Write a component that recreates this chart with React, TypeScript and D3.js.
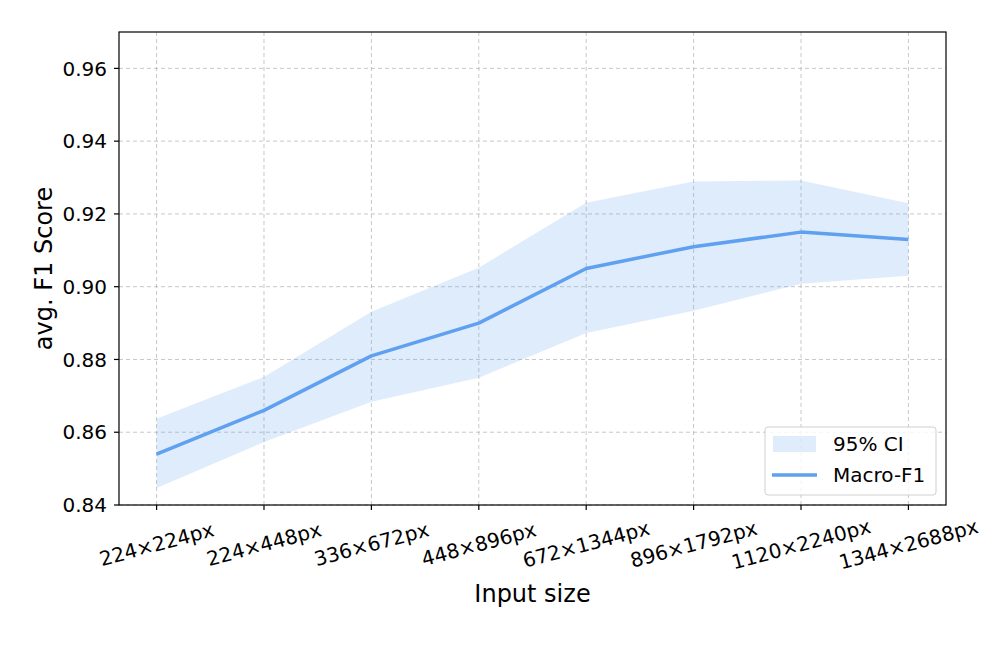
import React from "react";
import * as d3 from "d3";

const categories = ["224×224px", "224×448px", "336×672px", "448×896px", "672×1344px", "896×1792px", "1120×2240px", "1344×2688px"];
const macroF1 = [0.854, 0.866, 0.881, 0.890, 0.905, 0.911, 0.915, 0.913];
const ciUpper = [0.8637, 0.8752, 0.8931, 0.9052, 0.9231, 0.9289, 0.9292, 0.9229];
const ciLower = [0.8447, 0.8573, 0.8684, 0.8750, 0.8873, 0.8934, 0.9008, 0.9030];
const yTicks = [0.84, 0.86, 0.88, 0.90, 0.92, 0.94, 0.96];

const W = 996, H = 648;
const L = 119, R = 946, T = 32, B = 505;
const COLOR = "#60a0f0";
const FONT = "DejaVu Sans, sans-serif";

export default function App() {
  const x = d3.scaleLinear().domain([-0.35, categories.length - 1 + 0.35]).range([L, R]);
  const y = d3.scaleLinear().domain([0.84, 0.97]).range([B, T]);
  const idx = categories.map((_, i) => i);
  const area = d3.area<number>().x((i) => x(i)).y0((i) => y(ciLower[i])).y1((i) => y(ciUpper[i]));
  const line = d3.line<number>().x((i) => x(i)).y((i) => y(macroF1[i]));

  return (
    <svg width={W} height={H} style={{ position: "absolute", left: 0, top: 0, background: "#fff" }} fontFamily={FONT}>
      <rect x={0} y={0} width={W} height={H} fill="#fff" />
      {yTicks.map((t) => (
        <line key={"gy" + t} x1={L} x2={R} y1={y(t)} y2={y(t)} stroke="#b0b0b0" strokeOpacity={0.7} strokeWidth={1} strokeDasharray="4,3" />
      ))}
      {idx.map((i) => (
        <line key={"gx" + i} x1={x(i)} x2={x(i)} y1={T} y2={B} stroke="#b0b0b0" strokeOpacity={0.7} strokeWidth={1} strokeDasharray="4,3" />
      ))}
      <path d={area(idx) || ""} fill={COLOR} fillOpacity={0.2} />
      <path d={line(idx) || ""} fill="none" stroke={COLOR} strokeWidth={3.5} strokeLinejoin="round" />
      <rect x={L} y={T} width={R - L} height={B - T} fill="none" stroke="#000" strokeWidth={1.2} />
      {yTicks.map((t) => (
        <g key={"yt" + t}>
          <line x1={L - 5} x2={L} y1={y(t)} y2={y(t)} stroke="#000" strokeWidth={1.2} />
          <text x={L - 12} y={y(t)} dy="0.36em" textAnchor="end" fontSize={20} fill="#000">{t.toFixed(2)}</text>
        </g>
      ))}
      {categories.map((c, i) => (
        <g key={"xt" + i}>
          <line x1={x(i)} x2={x(i)} y1={B} y2={B + 5} stroke="#000" strokeWidth={1.2} />
          <text transform={`translate(${x(i)},${544}) rotate(-15)`} textAnchor="middle" dy="0.36em" fontSize={20} fill="#000">{c}</text>
        </g>
      ))}
      <text x={(L + R) / 2} y={593} dy="0.36em" textAnchor="middle" fontSize={24} fill="#000">Input size</text>
      <text transform={`translate(${43},${(T + B) / 2}) rotate(-90)`} dy="0.36em" textAnchor="middle" fontSize={24} fill="#000">avg. F1 Score</text>
      <g>
        <rect x={765} y={427} width={171} height={68} rx={3} fill="#fff" fillOpacity={0.8} stroke="#d0d0d0" strokeWidth={1} />
        <rect x={773} y={436} width={43} height={16} fill={COLOR} fillOpacity={0.2} />
        <text x={833} y={444} dy="0.36em" fontSize={20} fill="#000">95% CI</text>
        <line x1={772} x2={817} y1={475} y2={475} stroke={COLOR} strokeWidth={3.5} />
        <text x={833} y={475} dy="0.36em" fontSize={20} fill="#000">Macro-F1</text>
      </g>
    </svg>
  );
}
